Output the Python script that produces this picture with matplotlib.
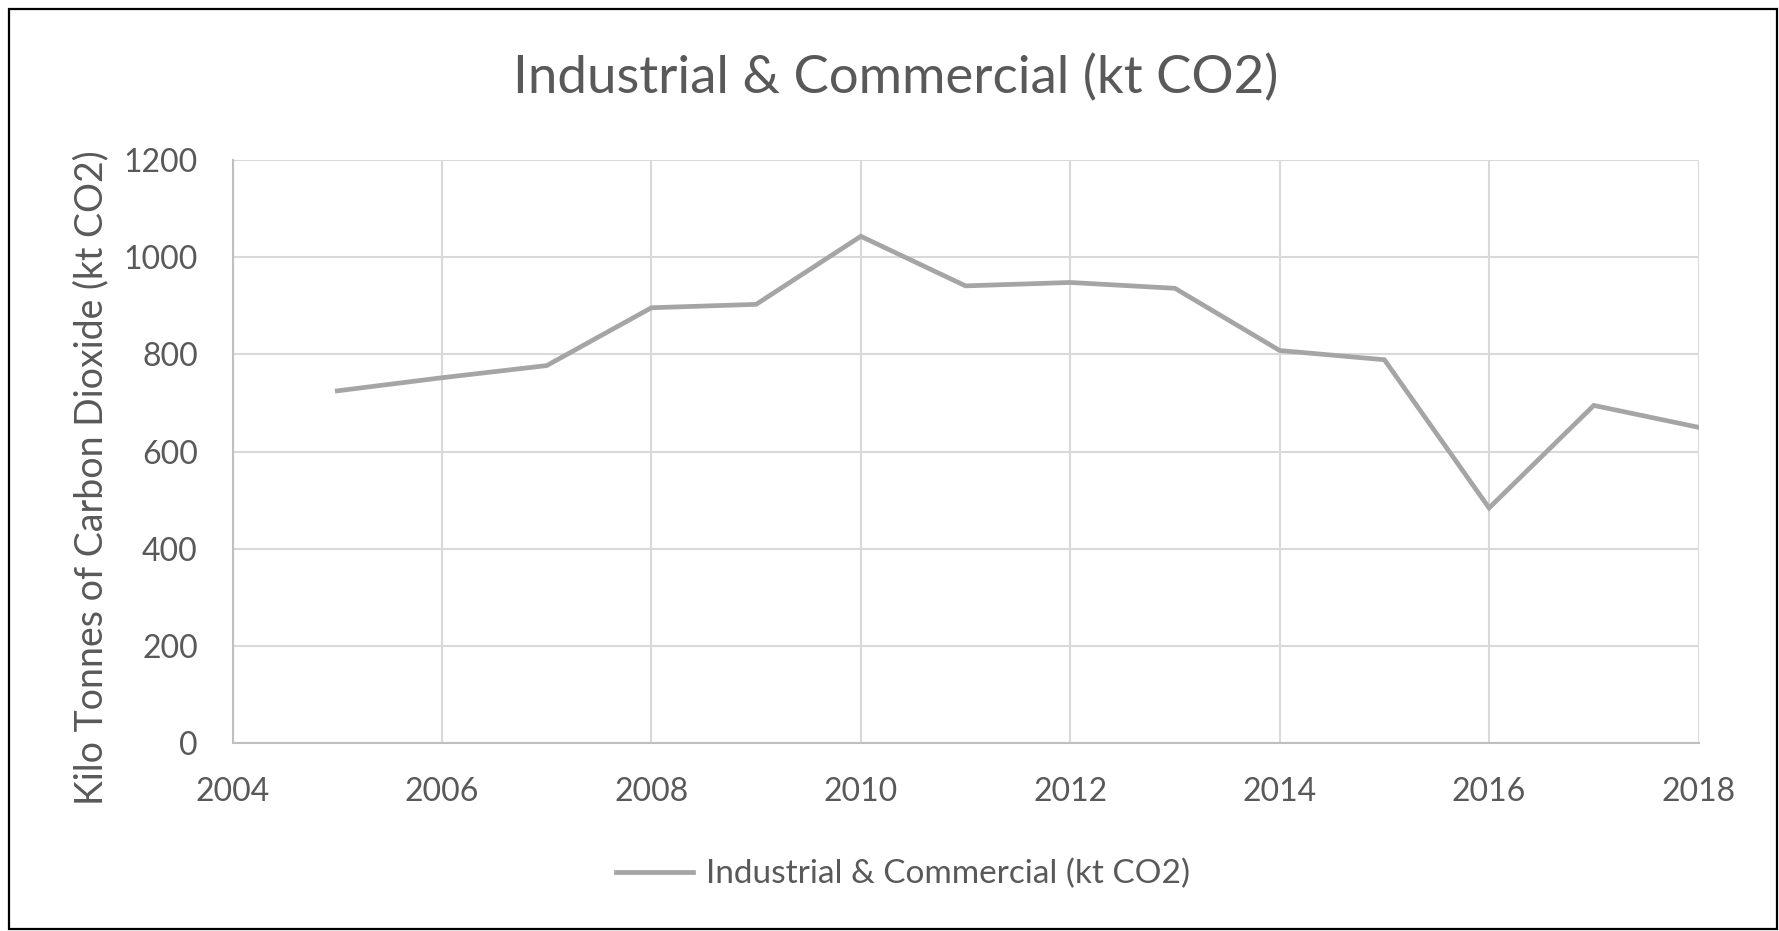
import matplotlib
matplotlib.use("Agg")
import matplotlib.pyplot as plt
from matplotlib.patches import Rectangle

# Data
years = [2005, 2006, 2007, 2008, 2009, 2010, 2011, 2012, 2013, 2014, 2015, 2016, 2017, 2018]
values = [725, 752, 777, 896, 903, 1043, 941, 948, 936, 808, 789, 484, 695, 650]
series_name = "Industrial & Commercial (kt CO2)"
title = "Industrial & Commercial (kt CO2)"
ylabel = "Kilo Tonnes of Carbon Dioxide (kt CO2)"
xticks = [2004, 2006, 2008, 2010, 2012, 2014, 2016, 2018]
yticks = [0, 200, 400, 600, 800, 1000, 1200]

plt.rcParams['font.family'] = ['Lato', 'DejaVu Sans']
W, H = 1779, 931
fig = plt.figure(figsize=(W / 100, H / 100), dpi=100)
fig.patch.set_facecolor('white')

ax = fig.add_axes([232.6 / W, 1 - 743.2 / H, (1698.5 - 232.6) / W, (743.2 - 160) / H])
ax.plot(years, values, color='#A5A5A5', linewidth=3.4, label=series_name,
        solid_joinstyle='miter', zorder=3)
ax.set_xlim(2004, 2018)
ax.set_ylim(0, 1200)
ax.set_xticks(xticks)
ax.set_yticks(yticks)
ax.grid(True, color='#D9D9D9', linewidth=1.5, zorder=0)
ax.set_axisbelow(True)
for s in ['top', 'right']:
    ax.spines[s].set_visible(False)
for s in ['left', 'bottom']:
    ax.spines[s].set_color('#BFBFBF')
    ax.spines[s].set_linewidth(1.5)
ax.tick_params(axis='both', length=0, labelsize=23, labelcolor='#595959')
ax.tick_params(axis='x', pad=24)
ax.tick_params(axis='y', pad=25)

fig.text(896 / W, 1 - 78 / H, title, ha='center', va='center', fontsize=38, color='#595959')
fig.text(91 / W, 1 - 478 / H, ylabel, ha='center', va='center', rotation=90,
         fontsize=27, color='#595959')

leg = ax.legend(loc='center', bbox_to_anchor=(903 / W, 1 - 874 / H),
                bbox_transform=fig.transFigure, frameon=False, fontsize=24,
                handlelength=2.3, handletextpad=0.38, labelcolor='#595959')

fig.patches.append(Rectangle((9 / W, 2 / H), (1777 - 9) / W, (929 - 9) / H,
                             transform=fig.transFigure, fill=False,
                             edgecolor='black', linewidth=1.6))

fig.savefig('out.png', dpi=100, facecolor='white')
